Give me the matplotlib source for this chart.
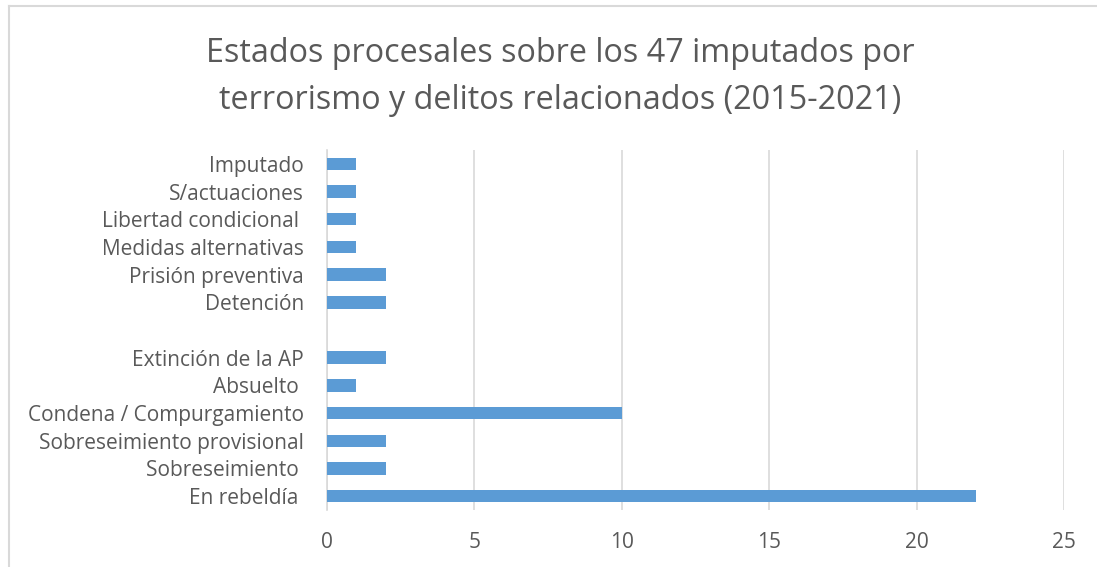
import matplotlib.pyplot as plt

# datos (de abajo hacia arriba)
estados = ['En rebeldía ', 'Sobreseimiento ', 'Sobreseimiento provisional',
           'Condena / Compurgamiento', 'Absuelto ', 'Extinción de la AP', '',
           'Detención', 'Prisión preventiva', 'Medidas alternativas',
           'Libertad condicional ', 'S/actuaciones', 'Imputado']
imputados = [22, 2, 2, 10, 1, 2, 0, 2, 2, 1, 1, 1, 1]
ticks_x = [0, 5, 10, 15, 20, 25]

plt.rcParams['font.family'] = ['Open Sans', 'DejaVu Sans']
gris = '#595959'

fig = plt.figure(figsize=(10.97, 5.67), dpi=100)
ax = fig.add_axes([0.298, 0.1005, 0.672, 0.635])

pos = list(range(len(estados)))
ax.barh(pos, imputados, height=0.45, color='#5b9bd5', zorder=3)

ax.set_xlim(0, 25)
ax.set_ylim(-0.5, len(estados) - 0.5)
ax.set_xticks(ticks_x)
ax.set_yticks(pos)
ax.set_yticklabels(estados)
ax.tick_params(axis='both', length=0, labelsize=15, colors=gris)
ax.tick_params(axis='x', pad=16)
ax.tick_params(axis='y', pad=16.5)
ax.grid(axis='x', color='#d9d9d9', linewidth=1.2, zorder=0)

for s in ['top', 'right', 'bottom']:
    ax.spines[s].set_visible(False)
ax.spines['left'].set_color('#d9d9d9')
ax.spines['left'].set_linewidth(1.2)

fig.text(0.5105, 0.864, 'Estados procesales sobre los 47 imputados por\n'
         'terrorismo y delitos relacionados (2015-2021)',
         ha='center', va='center', fontsize=23.3, color=gris, linespacing=1.55)

# borde del gráfico (recortado)
fig.add_artist(plt.Line2D([9 / 1097, 1], [1 - 6 / 567, 1 - 6 / 567],
                          color='#d9d9d9', linewidth=1.5))
fig.add_artist(plt.Line2D([9 / 1097, 9 / 1097], [0, 1 - 6 / 567],
                          color='#d9d9d9', linewidth=1.5))

plt.savefig('out.png', dpi=100)
